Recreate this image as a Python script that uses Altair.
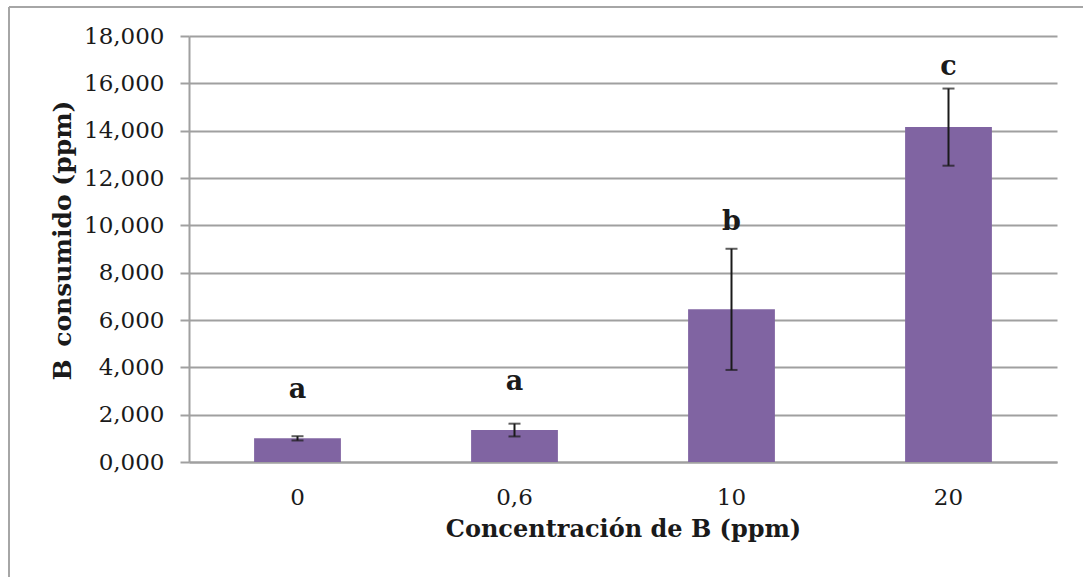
import altair as alt
import pandas as pd

conc = ["0", "0,6", "10", "20"]
mean = [1000, 1350, 6450, 14150]
err = [90, 270, 2560, 1630]
letters = ["a", "a", "b", "c"]
letter_y = [3030, 3400, 10140, 16690]

df = pd.DataFrame({
    "conc": conc,
    "mean": mean,
    "lo": [m - e for m, e in zip(mean, err)],
    "hi": [m + e for m, e in zip(mean, err)],
    "letter": letters,
    "ly": letter_y,
})

FONT = "DejaVu Serif"
GRID = "#A0A0A0"
W, H = 868, 426

xenc = alt.X("conc:N", sort=conc,
             scale=alt.Scale(paddingInner=0.6, paddingOuter=0.3),
             axis=alt.Axis(title="Concentración de B (ppm)", labelAngle=0,
                           ticks=False, domain=True, domainColor=GRID, domainWidth=2,
                           labelFont=FONT, labelFontSize=23, labelColor="#1a1a1a",
                           labelPadding=24,
                           titleFont=FONT, titleFontSize=24, titleFontWeight="bold",
                           titleColor="#1a1a1a", titlePadding=8))

yscale = alt.Scale(domain=[0, 18000], nice=False)

bars = alt.Chart(df).mark_bar(color="#8064A2").encode(
    x=xenc,
    y=alt.Y("mean:Q", scale=yscale,
            axis=alt.Axis(title="B\u2002consumido (ppm)", values=list(range(0, 18001, 2000)),
                          labelExpr="replace(format(datum.value/1000, '.3f'), '.', ',')",
                          grid=True, gridColor=GRID, gridWidth=2,
                          domain=True, domainColor=GRID, domainWidth=2,
                          ticks=True, tickColor=GRID, tickSize=9, tickWidth=2,
                          labelFont=FONT, labelFontSize=23, labelColor="#1a1a1a",
                          labelPadding=16,
                          titleFont=FONT, titleFontSize=25, titleFontWeight="bold",
                          titleColor="#1a1a1a", titleAngle=-90, titleBaseline="middle",
                          titleAlign="center", titleX=-127, titleY=204)),
)

rules = alt.Chart(df).mark_rule(color="#1a1a1a", strokeWidth=2).encode(
    x=alt.X("conc:N", sort=conc), y="lo:Q", y2="hi:Q")
cap_lo = alt.Chart(df).mark_tick(color="#1a1a1a", thickness=2, size=12).encode(
    x=alt.X("conc:N", sort=conc), y="lo:Q")
cap_hi = alt.Chart(df).mark_tick(color="#1a1a1a", thickness=2, size=12).encode(
    x=alt.X("conc:N", sort=conc), y="hi:Q")
text = alt.Chart(df).mark_text(font=FONT, fontSize=27, fontWeight="bold",
                               color="#1a1a1a", baseline="middle").encode(
    x=alt.X("conc:N", sort=conc), y="ly:Q", text="letter:N")

border_v = alt.Chart(df).mark_rule(color="#A6A6A6", strokeWidth=2).encode(
    x=alt.value(-180), y=alt.value(-29), y2=alt.value(600))
border_h = alt.Chart(df).mark_rule(color="#A6A6A6", strokeWidth=2).encode(
    y=alt.value(-29), x=alt.value(-180), x2=alt.value(950))

chart = alt.layer(bars, rules, cap_lo, cap_hi, text, border_v, border_h).properties(
    width=W, height=H,
    autosize=alt.AutoSizeParams(type="none"),
    padding={"left": 189, "top": 36, "right": 1083 - 189 - W, "bottom": 577 - 36 - H},
    background="white",
).configure_view(stroke=None)

chart.save("out.html", embed_options={"renderer": "svg", "actions": False})
